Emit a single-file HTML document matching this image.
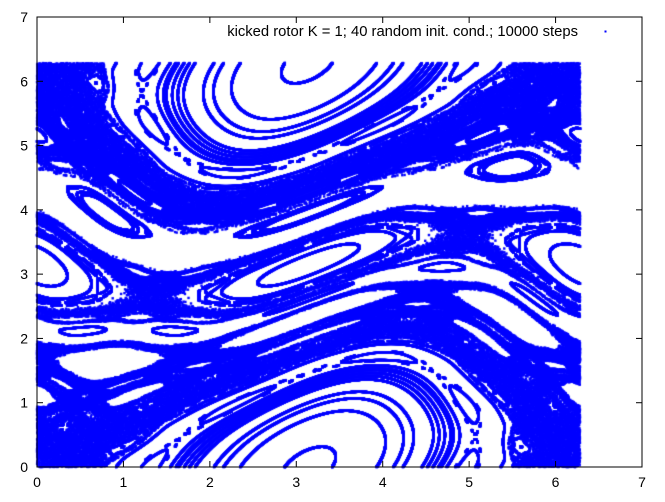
<!DOCTYPE html>
<html><head><meta charset="utf-8">
<style>
html,body{margin:0;padding:0;background:#fff;}
#wrap{position:relative;width:665px;height:502px;font-family:"Liberation Sans",sans-serif;}
canvas{position:absolute;left:0;top:0;}
svg{position:absolute;left:0;top:0;}
</style></head>
<body>
<div id="wrap">
<canvas id="c" width="665" height="502"></canvas>
<svg id="s" width="665" height="502"></svg>
</div>
<script>
// data
const K = 1;
const steps = 10000;
const thetaInit = [0.31,1.12,2.05,2.87,3.61,4.40,5.22,5.95,0.74,1.58,2.49,3.33,4.02,4.87,5.60,6.10,0.12,0.95,1.83,2.66,3.45,4.21,5.04,5.77,0.52,1.36,2.25,3.08,3.90,4.65,5.41,6.20,0.88,1.70,2.58,3.20,4.11,4.95,5.68,2.95];
const pInit = [5.80,0.44,3.12,6.01,2.33,1.05,4.77,3.88,2.61,5.21,0.92,4.15,5.55,2.02,0.31,3.47,1.66,4.41,2.88,0.70,5.02,3.65,1.41,6.12,4.03,2.15,5.88,1.22,3.30,0.58,2.70,4.90,6.05,3.95,1.85,5.40,2.50,0.15,4.55,3.78];
const xTicks = [0,1,2,3,4,5,6,7];
const yTicks = [0,1,2,3,4,5,6,7];

const L=37,R=642,T=17,B=467;
const xs=v=>L+(v-0)/(7-0)*(R-L);
const ys=v=>B-(v-0)/(7-0)*(B-T);

const ctx=document.getElementById('c').getContext('2d');
ctx.fillStyle='#0000ff';
const TWO=2*Math.PI;
for(let i=0;i<thetaInit.length;i++){
  let th=thetaInit[i], p=pInit[i];
  for(let n=0;n<steps;n++){
    p=p+K*Math.sin(th); p=((p%TWO)+TWO)%TWO;
    th=th+p; th=((th%TWO)+TWO)%TWO;
    ctx.fillRect(xs(th)-1.2,ys(p)-1.2,2.4,2.4);
  }
}

const svg=document.getElementById('s');
const NS='http://www.w3.org/2000/svg';
function mk(tag,attrs,txt){const e=document.createElementNS(NS,tag);for(const k in attrs)e.setAttribute(k,attrs[k]);if(txt!==undefined)e.textContent=txt;svg.appendChild(e);return e;}
const border=mk('rect',{x:L,y:T,width:R-L,height:B-T,fill:'none',stroke:'#000','stroke-width':1});


xTicks.forEach(t=>{
  const x=xs(t);
  const a=mk('line',{x1:x,y1:B,x2:x,y2:B-6,stroke:'#000'});
  
  
  const b=mk('line',{x1:x,y1:T,x2:x,y2:T+6,stroke:'#000'});
  
  
  const l=mk('text',{x:x,y:B+20,'text-anchor':'middle','font-size':14,fill:'#000','font-family':'Liberation Sans, sans-serif'},String(t));
  
  
});
yTicks.forEach(t=>{
  const y=ys(t);
  const a=mk('line',{x1:L,y1:y,x2:L+6,y2:y,stroke:'#000'});
  
  
  const b=mk('line',{x1:R,y1:y,x2:R-6,y2:y,stroke:'#000'});
  
  
  const l=mk('text',{x:L-9,y:y+5,'text-anchor':'end','font-size':14,fill:'#000','font-family':'Liberation Sans, sans-serif'},String(t));
  
  
});
const lt=mk('text',{x:578,y:36,'text-anchor':'end','font-size':14.8,fill:'#000','font-family':'Liberation Sans, sans-serif'},'kicked rotor K = 1; 40 random init. cond.; 10000 steps');


const ld=mk('rect',{x:604.5,y:30.5,width:2,height:2,fill:'#0000ff'});


</script>
</body></html>
